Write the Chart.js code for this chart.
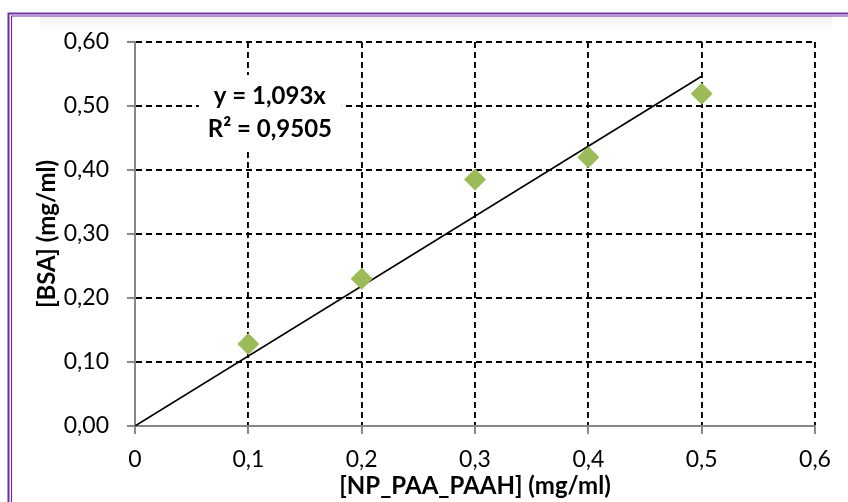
<!DOCTYPE html>
<html>
<head>
<meta charset="utf-8">
<script src="https://cdn.jsdelivr.net/npm/chart.js@4/dist/chart.umd.min.js"></script>
<style>
  html, body { margin: 0; padding: 0; background: #fff; }
  #wrap { width: 848px; height: 502px; position: relative; }
</style>
</head>
<body>
<div id="wrap"><canvas id="c" width="848" height="502"></canvas></div>
<script>
// ---- data ----
const concentrations = [0.1, 0.2, 0.3, 0.4, 0.5];          // [NP_PAA_PAAH] (mg/ml)
const bsaValues      = [0.128, 0.230, 0.385, 0.420, 0.519]; // [BSA] (mg/ml)
const trendX = [0, 0.5];
const trendY = [0, 0.5465];
const xTickLabels = ['0', '0,1', '0,2', '0,3', '0,4', '0,5', '0,6'];
const yTickLabels = ['0,00', '0,10', '0,20', '0,30', '0,40', '0,50', '0,60'];
const xTitle = '[NP_PAA_PAAH] (mg/ml)';
const yTitle = '[BSA] (mg/ml)';
const equationLines = ['y = 1,093x', 'R² = 0,9505'];

const FONT = 'Lato, "Open Sans", sans-serif';
const GRID_DASH = [6, 4];
const AXIS_GRAY = '#868686';

const framePlugin = {
  id: 'frame',
  beforeDraw(chart) {
    const ctx = chart.ctx;
    ctx.save();
    ctx.fillStyle = '#ffffff';
    ctx.fillRect(0, 0, chart.width, chart.height);
    const g = ctx.createLinearGradient(0, 16, 0, 32);
    g.addColorStop(0, '#f0f0f0');
    g.addColorStop(1, '#ffffff');
    ctx.fillStyle = g;
    ctx.fillRect(40, 16, 792, 16);
    ctx.strokeStyle = '#7030A0';
    ctx.lineWidth = 2;
    ctx.beginPath();
    ctx.moveTo(8.5, 502); ctx.lineTo(8.5, 13.5); ctx.lineTo(848, 13.5);
    ctx.stroke();
    ctx.lineWidth = 1.2;
    ctx.beginPath();
    ctx.moveTo(11.5, 502); ctx.lineTo(11.5, 16); ctx.lineTo(848, 16);
    ctx.stroke();
    ctx.restore();
  }
};

const equationPlugin = {
  id: 'equation',
  beforeDatasetsDraw(chart) {
    const ctx = chart.ctx;
    const xs = chart.scales.x, ys = chart.scales.y;
    const cx = xs.getPixelForValue(0.119);
    const cy = ys.getPixelForValue(0.5);
    ctx.save();
    ctx.fillStyle = '#ffffff';
    ctx.fillRect(cx - 71, cy - 31, 143, 73);
    ctx.fillStyle = '#000000';
    ctx.font = 'bold 24px ' + FONT;
    ctx.textAlign = 'center';
    ctx.textBaseline = 'middle';
    ctx.fillText(equationLines[0], cx, cy - 10);
    ctx.fillText(equationLines[1], cx, cy + 23);
    ctx.restore();
  }
};

const gridColor = (c) => (c.index === 0 ? 'rgba(0,0,0,0)' : '#000000');

new Chart(document.getElementById('c'), {
  type: 'scatter',
  data: {
    datasets: [
      {
        label: 'trend',
        data: trendX.map((x, i) => ({ x, y: trendY[i] })),
        showLine: true,
        borderColor: '#000000',
        borderWidth: 1.6,
        pointRadius: 0,
        pointHoverRadius: 0,
        fill: false,
        order: 2
      },
      {
        label: 'BSA',
        data: concentrations.map((x, i) => ({ x, y: bsaValues[i] })),
        pointStyle: 'rectRot',
        pointRadius: 11,
        pointHoverRadius: 11,
        backgroundColor: '#9BBB59',
        borderColor: '#9BBB59',
        borderWidth: 0,
        order: 1
      }
    ]
  },
  options: {
    responsive: false,
    animation: false,
    devicePixelRatio: 1,
    layout: { padding: { left: 0, right: 33, top: 42, bottom: 0 } },
    plugins: { legend: { display: false }, tooltip: { enabled: false } },
    scales: {
      x: {
        type: 'linear',
        min: 0, max: 0.6,
        ticks: {
          stepSize: 0.1,
          padding: 12,
          color: '#000000',
          font: { family: FONT, size: 23 },
          maxRotation: 0,
          callback: (v, i) => xTickLabels[i]
        },
        grid: {
          color: gridColor,
          lineWidth: 1.9,
          tickLength: 8,
          tickColor: AXIS_GRAY,
          tickWidth: 2,
          tickBorderDash: []
        },
        border: { display: true, color: AXIS_GRAY, width: 2, dash: GRID_DASH },
        title: {
          display: true,
          text: xTitle,
          color: '#000000',
          font: { family: FONT, size: 24, weight: 'bold' },
          padding: { top: 0, bottom: 1 }
        },
        afterFit(s) { s.height = 76; }
      },
      y: {
        type: 'linear',
        min: 0, max: 0.6,
        ticks: {
          stepSize: 0.1,
          padding: 18,
          color: '#000000',
          font: { family: FONT, size: 23 },
          callback: (v, i) => yTickLabels[i]
        },
        grid: {
          color: gridColor,
          lineWidth: 1.9,
          tickLength: 8,
          tickColor: AXIS_GRAY,
          tickWidth: 2,
          tickBorderDash: []
        },
        border: { display: true, color: AXIS_GRAY, width: 2, dash: GRID_DASH },
        title: {
          display: true,
          text: yTitle,
          color: '#000000',
          font: { family: FONT, size: 24, weight: 'bold' },
          padding: { top: 33, bottom: 0 }
        },
        afterFit(s) { s.width = 135; }
      }
    }
  },
  plugins: [framePlugin, equationPlugin]
});
</script>
</body>
</html>
